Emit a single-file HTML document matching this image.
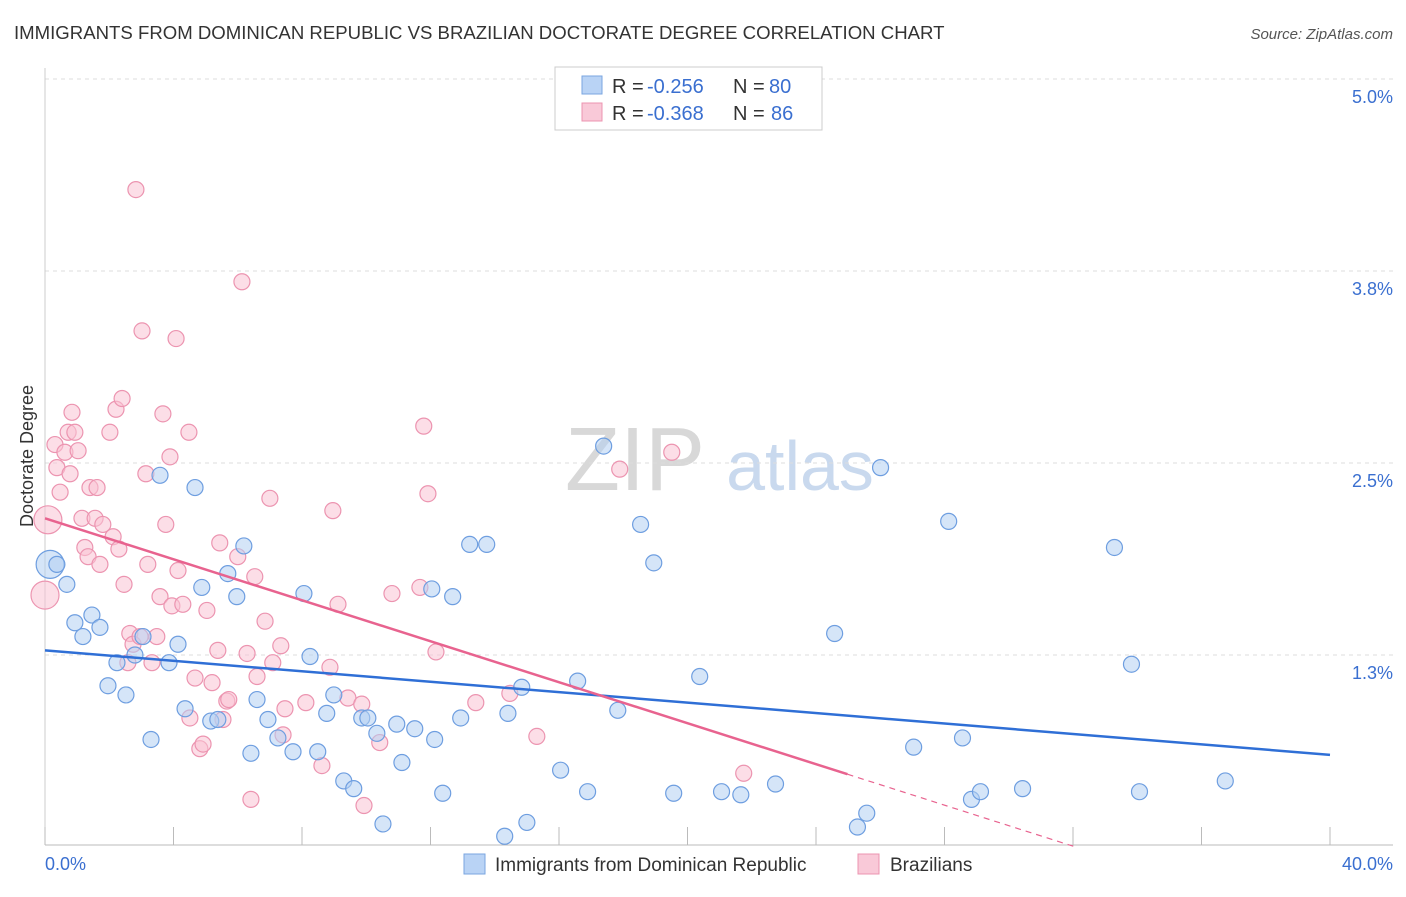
<!DOCTYPE html>
<html><head><meta charset="utf-8"><style>
body{margin:0;background:#fff;font-family:"Liberation Sans",sans-serif;}
svg text{font-family:"Liberation Sans",sans-serif;}
</style></head><body>
<svg id="chart" width="1406" height="892" xmlns="http://www.w3.org/2000/svg">
<text x="14" y="39" font-size="18.6" fill="#333">IMMIGRANTS FROM DOMINICAN REPUBLIC VS BRAZILIAN DOCTORATE DEGREE CORRELATION CHART</text>
<text x="1393" y="39" font-size="15" fill="#555" text-anchor="end" font-style="italic">Source: ZipAtlas.com</text>
<text x="33" y="456" font-size="18" fill="#333" text-anchor="middle" transform="rotate(-90 33 456)">Doctorate Degree</text>
<g><text x="635" y="490" font-size="90" fill="#d8d8d8" font-family="Liberation Serif" text-anchor="middle">ZIP</text><text x="800" y="490" font-size="70" fill="#c9d9ee" text-anchor="middle">atlas</text></g>
<g id="grid"></g><g id="axes"></g><g id="pts"></g><g id="lines"></g>
<g>
<rect x="555" y="67" width="267" height="63" fill="#fff" stroke="#ccc"/>
<rect x="582" y="76" width="20" height="18" fill="#b9d3f5" stroke="#7aa6e0"/>
<rect x="582" y="103" width="20" height="18" fill="#f9c9d8" stroke="#ec94b0"/>
<text x="612" y="93" font-size="20" fill="#333">R =</text><text x="647" y="93" font-size="20" fill="#3a6fd0">-0.256</text>
<text x="733" y="93" font-size="20" fill="#333">N =</text><text x="769" y="93" font-size="20" fill="#3a6fd0">80</text>
<text x="612" y="120" font-size="20" fill="#333">R =</text><text x="647" y="120" font-size="20" fill="#3a6fd0">-0.368</text>
<text x="733" y="120" font-size="20" fill="#333">N =</text><text x="771" y="120" font-size="20" fill="#3a6fd0">86</text>
</g>
<g>
<rect x="464" y="854" width="21" height="20" fill="#b9d3f5" stroke="#7aa6e0"/>
<text x="495" y="871" font-size="19" fill="#333">Immigrants from Dominican Republic</text>
<rect x="858" y="854" width="21" height="20" fill="#f9c9d8" stroke="#ec94b0"/>
<text x="890" y="871" font-size="19" fill="#333">Brazilians</text>
</g>
</svg>
<script>
const yTicks=[1.25,2.5,3.75,5.0];
const yTickLabels=["1.3%","2.5%","3.8%","5.0%"];
const xTickVals=[0,4,8,12,16,20,24,28,32,36,40];
const blueX=[0.16,0.37,0.68,0.93,1.18,1.46,1.71,1.96,2.24,2.52,2.80,3.05,3.30,3.58,3.86,4.14,4.36,4.67,4.88,5.16,5.38,5.69,5.97,6.19,6.41,6.60,6.94,7.25,7.72,8.06,8.25,8.49,8.77,8.99,9.30,9.61,9.86,10.05,10.33,10.52,10.95,11.11,11.51,12.04,12.13,12.38,12.69,12.94,13.22,13.75,14.31,14.41,14.84,15.00,16.05,16.58,16.89,17.39,17.83,18.54,18.95,19.57,20.38,21.06,21.66,22.74,24.58,25.29,25.58,26.01,27.04,28.13,28.56,28.84,29.12,30.43,33.29,33.82,34.07,36.74];
const blueY=[1.84,1.84,1.71,1.46,1.37,1.51,1.43,1.05,1.20,0.99,1.25,1.37,0.70,2.42,1.20,1.32,0.90,2.34,1.69,0.82,0.83,1.78,1.63,1.96,0.61,0.96,0.83,0.71,0.62,1.65,1.24,0.62,0.87,0.99,0.43,0.38,0.84,0.84,0.74,0.15,0.80,0.55,0.77,1.68,0.70,0.35,1.63,0.84,1.97,1.97,0.07,0.87,1.04,0.16,0.50,1.08,0.36,2.61,0.89,2.10,1.85,0.35,1.11,0.36,0.34,0.41,1.39,0.13,0.22,2.47,0.65,2.12,0.71,0.31,0.36,0.38,1.95,1.19,0.36,0.43];
const pinkX=[0,0.09,0.31,0.37,0.47,0.62,0.72,0.78,0.84,0.93,1.03,1.15,1.24,1.34,1.40,1.56,1.62,1.71,1.80,2.02,2.12,2.21,2.30,2.40,2.46,2.58,2.64,2.74,2.83,2.96,3.02,3.14,3.20,3.33,3.48,3.58,3.67,3.76,3.89,3.95,4.08,4.14,4.29,4.48,4.51,4.67,4.82,4.92,5.04,5.20,5.38,5.44,5.54,5.66,5.72,6.00,6.13,6.29,6.41,6.53,6.60,6.85,7.00,7.09,7.34,7.41,7.47,8.12,8.62,8.87,8.96,9.12,9.43,9.86,9.93,10.42,10.80,11.67,11.79,11.92,12.17,13.41,14.47,15.31,17.89,19.51,21.75];
const pinkY=[1.64,2.13,2.62,2.47,2.31,2.57,2.70,2.43,2.83,2.70,2.58,2.14,1.95,1.89,2.34,2.14,2.34,1.84,2.10,2.70,2.02,2.85,1.94,2.92,1.71,1.20,1.39,1.32,4.28,1.37,3.36,2.43,1.84,1.20,1.37,1.63,2.82,2.10,2.54,1.57,3.31,1.80,1.58,2.70,0.84,1.10,0.64,0.67,1.54,1.07,1.28,1.98,0.83,0.95,0.96,1.89,3.68,1.26,0.31,1.76,1.11,1.47,2.27,1.20,1.31,0.73,0.90,0.94,0.53,1.17,2.19,1.58,0.97,0.93,0.27,0.68,1.65,1.69,2.74,2.30,1.27,0.94,1.00,0.72,2.46,2.57,0.48];
const blueFit=[1.28,0.60];
const pinkFit=[2.14,-0.0667];
const pinkSolidEnd=24.98;
const X=v=>45+v*32.125, Y=v=>79+(5-v)*153.6;
const NS="http://www.w3.org/2000/svg";
function mk(p,tag,a){const e=document.createElementNS(NS,tag);for(const k in a)e.setAttribute(k,a[k]);p.appendChild(e);return e;}
const grid=document.getElementById('grid'),axes=document.getElementById('axes'),pts=document.getElementById('pts'),lines=document.getElementById('lines');
yTicks.forEach((t,i)=>{
 const l=mk(grid,'line',{x1:45,x2:1393,y1:Y(t),y2:Y(t),stroke:'#ddd','stroke-dasharray':'4 4'});
 
 
 const tx=mk(axes,'text',{x:1393,y:Y(t)+24,'font-size':18,fill:'#3a6fd0','text-anchor':'end'});tx.textContent=yTickLabels[i];
 
 
});
const ax=mk(axes,'line',{x1:45,x2:1393,y1:845,y2:845,stroke:'#bbb'});


const ay=mk(axes,'line',{x1:45,x2:45,y1:68,y2:845,stroke:'#ccc'});


xTickVals.forEach(v=>{const t=mk(axes,'line',{x1:X(v),x2:X(v),y1:827,y2:845,stroke:'#bbb'});
 
 });
[[0,"0.0%","start",45],[40,"40.0%","end",1393]].forEach(a=>{const t=mk(axes,'text',{x:a[3],y:870,'font-size':18,fill:'#3a6fd0','text-anchor':a[2]});t.textContent=a[1];
 
 });
function dots(xs,ys,fill,stroke,name){xs.forEach((x,i)=>{const big=(x<0.2);const c=mk(pts,'circle',{cx:X(x),cy:Y(ys[i]),r:big?14:8,fill:fill,'fill-opacity':0.55,stroke:stroke,'stroke-width':1.2});
 
 });}
dots(pinkX,pinkY,'#f9c2d3','#ec94b0','brazilian-point');
dots(blueX,blueY,'#b3cff3','#6e9ee0','dominican-point');
const bl=mk(lines,'line',{x1:X(0),y1:Y(blueFit[0]),x2:X(40),y2:Y(blueFit[1]),stroke:'#2f6fd6','stroke-width':2.5});


const pe=pinkFit[0]+pinkFit[1]*pinkSolidEnd, z=-pinkFit[0]/pinkFit[1];
const pl=mk(lines,'line',{x1:X(0),y1:Y(pinkFit[0]),x2:X(pinkSolidEnd),y2:Y(pe),stroke:'#e8638f','stroke-width':2.5});


const pd=mk(lines,'line',{x1:X(pinkSolidEnd),y1:Y(pe),x2:X(z),y2:Y(0),stroke:'#e8638f','stroke-width':1.2,'stroke-dasharray':'6 5'});


</script>
</body></html>
